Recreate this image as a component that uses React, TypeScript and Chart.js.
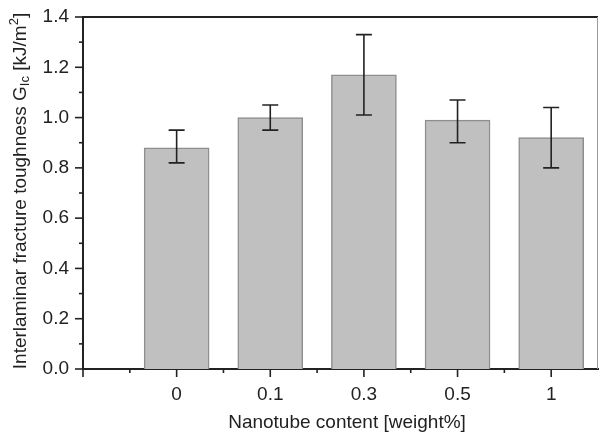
import React, { useEffect, useRef } from "react";
import { Chart, registerables } from "chart.js";

Chart.register(...registerables);

const categories = ["0", "0.1", "0.3", "0.5", "1"];
const values = [0.88, 1.0, 1.17, 0.99, 0.92];
const errLow = [0.82, 0.95, 1.01, 0.9, 0.8];
const errHigh = [0.95, 1.05, 1.33, 1.07, 1.04];
const xTitle = "Nanotube content [weight%]";
const yTitleParts = [
  { t: "Interlaminar fracture toughness G", k: "n" },
  { t: "Ic", k: "sub" },
  { t: " [kJ/m", k: "n" },
  { t: "2", k: "sup" },
  { t: "]", k: "n" },
];

const FONT = '"Liberation Sans", Arial, sans-serif';
const INK = "#222222";
const FS = 19;

const decorPlugin = {
  id: "decor",
  afterDatasetsDraw(chart: any) {
    const ctx = chart.ctx;
    const ys = chart.scales.y;
    const meta = chart.getDatasetMeta(0);
    ctx.save();
    ctx.strokeStyle = INK;
    ctx.lineWidth = 1.6;
    meta.data.forEach((el: any, i: number) => {
      const x = el.x;
      const yt = ys.getPixelForValue(errHigh[i]);
      const yb = ys.getPixelForValue(errLow[i]);
      ctx.beginPath();
      ctx.moveTo(x, yt);
      ctx.lineTo(x, yb);
      ctx.moveTo(x - 8, yt);
      ctx.lineTo(x + 8, yt);
      ctx.moveTo(x - 8, yb);
      ctx.lineTo(x + 8, yb);
      ctx.stroke();
    });
    ctx.restore();
  },
  afterDraw(chart: any) {
    const ctx = chart.ctx;
    const area = chart.chartArea;
    const xs = chart.scales.x;
    const ys = chart.scales.y;
    ctx.save();
    ctx.strokeStyle = INK;
    ctx.lineWidth = 2;
    ctx.beginPath();
    ctx.moveTo(area.left - 1, area.top);
    ctx.lineTo(area.right, area.top);
    ctx.stroke();
    ctx.strokeStyle = "#9a9a9a";
    ctx.lineWidth = 1;
    ctx.beginPath();
    ctx.moveTo(area.right - 0.5, area.top);
    ctx.lineTo(area.right - 0.5, area.bottom);
    ctx.stroke();
    ctx.strokeStyle = INK;
    ctx.lineWidth = 1.6;
    ys.ticks.forEach((t: any, i: number) => {
      const y = ys.getPixelForTick(i);
      const major = Math.round(t.value * 10) % 2 === 0;
      const len = major ? 8 : 4;
      ctx.beginPath();
      ctx.moveTo(area.left - len, y);
      ctx.lineTo(area.left, y);
      ctx.stroke();
    });
    xs.ticks.forEach((t: any, i: number) => {
      const x = xs.getPixelForTick(i);
      if (x > area.right - 2) return;
      const major = Number.isInteger(t.value);
      const len = major ? 8 : 4;
      ctx.beginPath();
      ctx.moveTo(x, area.bottom);
      ctx.lineTo(x, area.bottom + len);
      ctx.stroke();
    });
    ctx.fillStyle = INK;
    ctx.font = `${FS}px ${FONT}`;
    ctx.textAlign = "center";
    ctx.textBaseline = "middle";
    ctx.fillText(xTitle, 347, 423);
    const big = `${FS}px ${FONT}`;
    const small = `13px ${FONT}`;
    let total = 0;
    yTitleParts.forEach((p) => {
      ctx.font = p.k === "n" ? big : small;
      total += ctx.measureText(p.t).width;
    });
    ctx.translate(21, 191);
    ctx.rotate(-Math.PI / 2);
    ctx.textAlign = "left";
    let pos = -total / 2;
    yTitleParts.forEach((p) => {
      ctx.font = p.k === "n" ? big : small;
      const dy = p.k === "sub" ? 4 : p.k === "sup" ? -7 : 0;
      ctx.fillText(p.t, pos, dy);
      pos += ctx.measureText(p.t).width;
    });
    ctx.restore();
  },
};

function zeroPad(s: any) {
  s.paddingTop = 0;
  s.paddingBottom = 0;
  s.paddingLeft = 0;
  s.paddingRight = 0;
}

export default function App() {
  const ref = useRef<HTMLCanvasElement>(null);
  useEffect(() => {
    if (!ref.current) return;
    const chart = new Chart(ref.current, {
      type: "bar",
      data: {
        datasets: [
          {
            data: categories.map((c, i) => ({ x: i, y: values[i] })),
            backgroundColor: "#c0c0c0",
            borderColor: "#8e8e8e",
            borderWidth: 1.5,
            barThickness: 65,
          },
        ],
      },
      options: {
        animation: false,
        responsive: false,
        maintainAspectRatio: false,
        layout: { padding: { top: 17, right: 1, left: 0, bottom: 0 } },
        plugins: { legend: { display: false }, tooltip: { enabled: false } },
        scales: {
          x: {
            type: "linear",
            min: -1,
            max: 4.5,
            offset: false,
            grid: { display: false, drawTicks: false, offset: false },
            border: { display: true, color: INK, width: 2 },
            ticks: {
              stepSize: 0.5,
              autoSkip: false,
              maxRotation: 0,
              padding: 14,
              color: INK,
              font: { family: FONT, size: FS },
              callback: (v: any) => {
                const n = Number(v);
                return Number.isInteger(n) && n >= 0 && n < categories.length ? categories[n] : "";
              },
            },
            afterFit: (s: any) => {
              s.height = 65;
              zeroPad(s);
            },
          },
          y: {
            min: 0,
            max: 1.4,
            grid: { display: false, drawTicks: false },
            border: { display: true, color: INK, width: 2 },
            ticks: {
              stepSize: 0.1,
              autoSkip: false,
              padding: 14,
              color: INK,
              font: { family: FONT, size: FS },
              callback: (v: any) => {
                const n = Number(v);
                return Math.round(n * 10) % 2 === 0 ? n.toFixed(1) : "";
              },
            },
            afterFit: (s: any) => {
              s.width = 83;
              zeroPad(s);
            },
          },
        },
      },
      plugins: [decorPlugin],
    } as any);
    return () => chart.destroy();
  }, []);
  return (
    <div style={{ position: "fixed", left: 0, top: 0, width: 599, height: 434, background: "#fff" }}>
      <canvas ref={ref} width={599} height={434} style={{ width: 599, height: 434 }} />
    </div>
  );
}
